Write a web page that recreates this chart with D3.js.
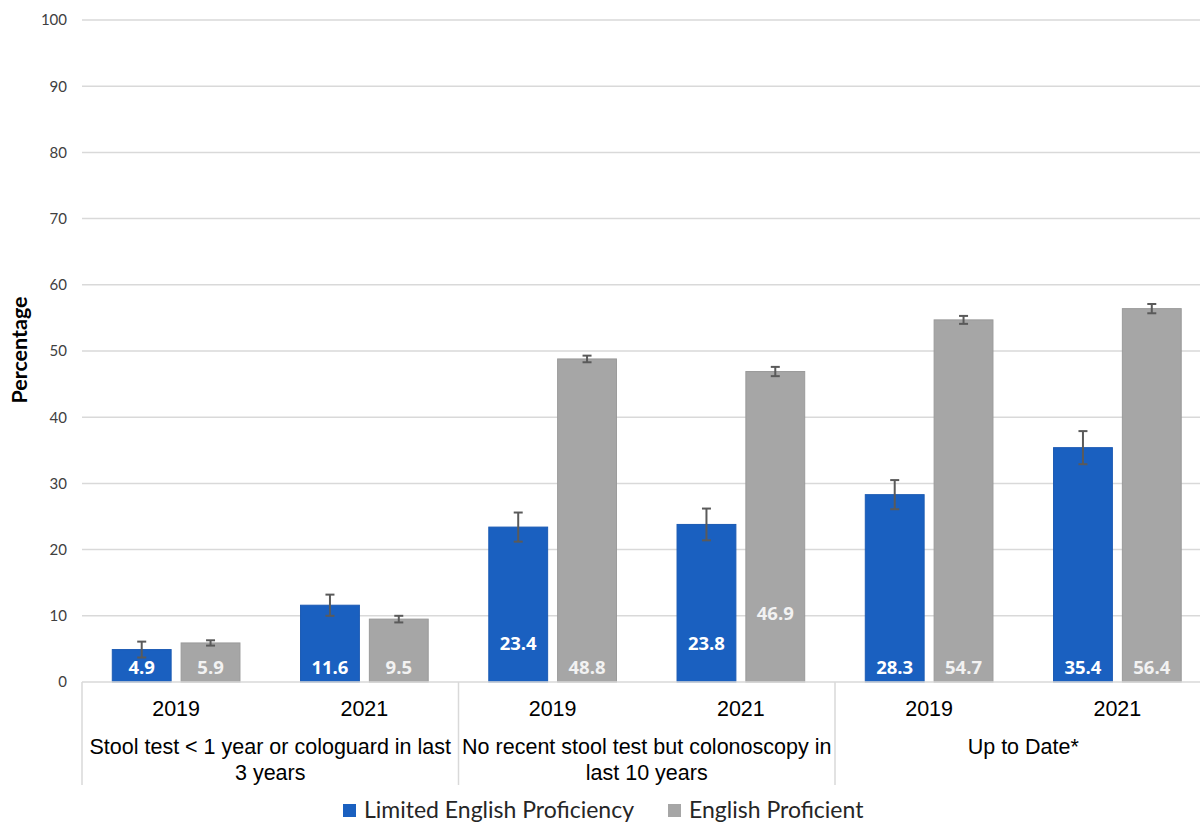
<!DOCTYPE html>
<html>
<head>
<meta charset="utf-8">
<script src="https://cdn.jsdelivr.net/npm/d3@7"></script>
<style>
  html, body { margin: 0; padding: 0; background: #ffffff; }
  svg { display: block; }
</style>
</head>
<body>
<script>
// Screening measures (outer categories) and survey years (inner categories)
const measures = [
  ["Stool test < 1 year or cologuard in last", "3 years"],
  ["No recent stool test but colonoscopy in", "last 10 years"],
  ["Up to Date*"]
];
const years = ["2019", "2021"];
const seriesNames = ["Limited English Proficiency", "English Proficient"];

// Percentages, ordered measure by measure, year by year
const lepValues = [4.9, 11.6, 23.4, 23.8, 28.3, 35.4];
const epValues  = [5.9, 9.5, 48.8, 46.9, 54.7, 56.4];
// Half-width of the confidence interval around each value
const lepErrors = [1.2, 1.6, 2.2, 2.4, 2.2, 2.5];
const epErrors  = [0.4, 0.5, 0.5, 0.7, 0.6, 0.7];

const yTicks = [0, 10, 20, 30, 40, 50, 60, 70, 80, 90, 100];

const colors = ["#1a60c0", "#a6a6a6"];
const strokes = ["#1b5ab3", "#9a9a9a"];

// Some value labels sit higher up inside their bar (pixels above the default spot)
const labelLift = { "2-0": 24, "3-0": 24, "3-1": 54 };

const W = 1200, H = 824;
const plotLeft = 82, plotRight = 1211.5, plotTop = 20, plotBottom = 682;

const svg = d3.select("body").append("svg")
  .attr("width", W).attr("height", H)
  .attr("viewBox", `0 0 ${W} ${H}`);

const y = d3.scaleLinear().domain([0, 100]).range([plotBottom, plotTop]);

// One slot per (measure, year)
const slots = [];
measures.forEach((m, mi) => years.forEach((yr, yi) => slots.push({ mi, yi, key: `${mi}-${yi}`, year: yr })));

const x0 = d3.scaleBand().domain(slots.map(s => s.key)).range([plotLeft, plotRight]).padding(0);
const x1 = d3.scaleBand().domain(d3.range(seriesNames.length))
  .range([0, x0.bandwidth()]).paddingInner(0.145).paddingOuter(0.44);
const xm = d3.scaleBand().domain(d3.range(measures.length)).range([plotLeft, plotRight]).padding(0);

// Gridlines
svg.append("g")
  .selectAll("line")
  .data(yTicks.filter(t => t > 0))
  .join("line")
  .attr("x1", plotLeft).attr("x2", W)
  .attr("y1", d => y(d)).attr("y2", d => y(d))
  .attr("stroke", "#d9d9d9").attr("stroke-width", 1.5);

// Y axis tick labels
const yAxis = d3.axisLeft(y).tickValues(yTicks).tickSize(0).tickPadding(15);
const yg = svg.append("g").attr("transform", `translate(${plotLeft},0)`).call(yAxis);
yg.select(".domain").remove();
yg.selectAll("text")
  .attr("font-family", "Lato, 'Open Sans', sans-serif")
  .attr("font-size", 15)
  .attr("fill", "#404040");

// Y axis title
svg.append("text")
  .attr("transform", `translate(27,350) rotate(-90)`)
  .attr("text-anchor", "middle")
  .attr("font-family", "Lato, 'Open Sans', sans-serif")
  .attr("font-weight", "bold")
  .attr("font-size", 21.5)
  .attr("fill", "#000")
  .text("Percentage");

// Bars
const barData = [];
slots.forEach((s, i) => {
  [lepValues, epValues].forEach((vals, si) => {
    const errs = si === 0 ? lepErrors : epErrors;
    barData.push({ slot: s, si, value: vals[i], err: errs[i] });
  });
});

svg.append("g")
  .selectAll("rect")
  .data(barData)
  .join("rect")
  .attr("x", d => x0(d.slot.key) + x1(d.si))
  .attr("width", x1.bandwidth())
  .attr("y", d => y(d.value))
  .attr("height", d => y(0) - y(d.value))
  .attr("fill", d => colors[d.si])
  .attr("stroke", d => strokes[d.si])
  .attr("stroke-width", 1);

// Error bars
const eg = svg.append("g").attr("stroke", "#5a5a5a").attr("stroke-width", 2).attr("fill", "none");
barData.forEach(d => {
  const cx = x0(d.slot.key) + x1(d.si) + x1.bandwidth() / 2;
  const top = y(d.value + d.err), bot = y(d.value - d.err);
  eg.append("line").attr("x1", cx).attr("x2", cx).attr("y1", top).attr("y2", bot);
  eg.append("line").attr("x1", cx - 4.5).attr("x2", cx + 4.5).attr("y1", top).attr("y2", top);
  eg.append("line").attr("x1", cx - 4.5).attr("x2", cx + 4.5).attr("y1", bot).attr("y2", bot);
});

// Value labels
svg.append("g")
  .selectAll("text")
  .data(barData)
  .join("text")
  .attr("x", d => x0(d.slot.key) + x1(d.si) + x1.bandwidth() / 2)
  .attr("y", d => y(0) - 14 - (labelLift[`${d.slot.mi * 2 + d.slot.yi}-${d.si}`] || 0))
  .attr("dy", "0.35em")
  .attr("text-anchor", "middle")
  .attr("font-family", "'Open Sans', Lato, sans-serif")
  .attr("font-weight", "bold")
  .attr("font-size", 18.5)
  .attr("fill", d => d.si === 0 ? "#ffffff" : "#f2f2f2")
  .text(d => d.value.toFixed(1));

// Category axis: baseline and dividers
const axisColor = "#d9d9d9";
svg.append("line")
  .attr("x1", plotLeft).attr("x2", W)
  .attr("y1", plotBottom).attr("y2", plotBottom)
  .attr("stroke", axisColor).attr("stroke-width", 1.5);

svg.append("g")
  .selectAll("line")
  .data(d3.range(measures.length + 1))
  .join("line")
  .attr("x1", d => plotLeft + d * xm.bandwidth())
  .attr("x2", d => plotLeft + d * xm.bandwidth())
  .attr("y1", plotBottom).attr("y2", 785)
  .attr("stroke", axisColor).attr("stroke-width", 1.5);

// Year labels
svg.append("g")
  .selectAll("text")
  .data(slots)
  .join("text")
  .attr("x", d => x0(d.key) + x0.bandwidth() / 2)
  .attr("y", 708)
  .attr("dy", "0.35em")
  .attr("text-anchor", "middle")
  .attr("font-family", "'Liberation Sans', Arial, sans-serif")
  .attr("font-size", 21.5)
  .attr("fill", "#000")
  .text(d => d.year);

// Measure labels (wrapped into lines)
measures.forEach((lines, mi) => {
  const cx = xm(mi) + xm.bandwidth() / 2;
  const t = svg.append("text")
    .attr("text-anchor", "middle")
    .attr("font-family", "'Liberation Sans', Arial, sans-serif")
    .attr("font-size", 21.5)
    .attr("fill", "#000");
  lines.forEach((ln, li) => {
    t.append("tspan").attr("x", cx).attr("y", 746 + li * 26).attr("dy", "0.35em").text(ln);
  });
});

// Legend
const legend = svg.append("g").attr("font-family", "Lato, 'Open Sans', sans-serif").attr("font-size", 23);
const legendX = [343, 668];
seriesNames.forEach((name, i) => {
  legend.append("rect")
    .attr("x", legendX[i]).attr("y", 804)
    .attr("width", 13).attr("height", 13)
    .attr("fill", colors[i]);
  legend.append("text")
    .attr("x", legendX[i] + 21).attr("y", 810)
    .attr("dy", "0.35em")
    .attr("fill", "#262626")
    .text(name);
});
</script>
</body>
</html>
